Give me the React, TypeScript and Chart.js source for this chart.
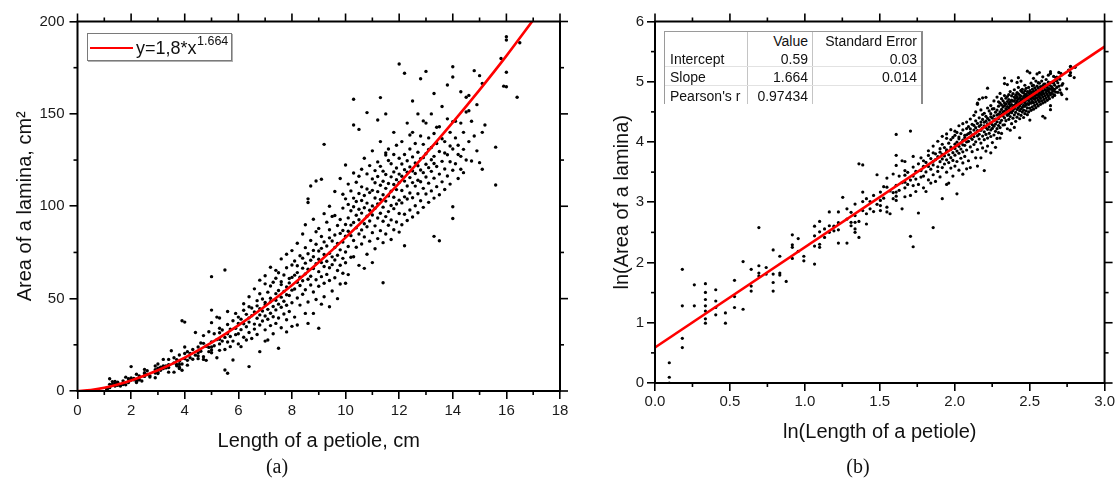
import React, { useEffect, useRef } from 'react';
import { Chart, registerables } from 'chart.js';

Chart.register(...registerables);

const SANS = '"Liberation Sans", Arial, Helvetica, sans-serif';
const SERIF = '"Liberation Serif", "Times New Roman", serif';

// Measured leaves: [petiole length (cm), lamina area (cm^2)], read band by band
const band1to2: [number, number][] = [
  [1.1, 1.0], [1.1, 1.1], [1.1, 1.4], [1.2, 1.8], [1.2, 2.1], [1.2, 3.6], [1.2, 6.6], [1.3, 3.6], [1.3, 5.1],
  [1.4, 2.7], [1.4, 2.9], [1.4, 3.3], [1.4, 3.6], [1.4, 4.0], [1.4, 4.5], [1.4, 5.2], [1.5, 3.1], [1.5, 3.5],
  [1.5, 3.9], [1.5, 4.7], [1.6, 2.7], [1.6, 3.2], [1.7, 3.5], [1.7, 4.2], [1.7, 5.5], [1.8, 3.4], [1.8, 7.5],
  [1.9, 4.6], [1.9, 5.0], [1.9, 6.6], [2.0, 5.9], [2.0, 6.2], [2.0, 7.0], [2.0, 13.2],
];
const band2to4: [number, number][] = [
  [2.1, 6.1], [2.1, 6.8], [2.2, 4.6], [2.2, 5.3], [2.2, 6.1], [2.2, 9.1], [2.3, 6.0], [2.3, 6.2], [2.3, 8.2],
  [2.4, 5.4], [2.5, 7.9], [2.5, 9.5], [2.5, 9.9], [2.5, 11.7], [2.6, 8.9], [2.6, 11.0], [2.7, 7.6], [2.7, 8.2],
  [2.9, 7.2], [2.9, 9.7], [2.9, 11.5], [2.9, 13.5], [3.0, 9.5], [3.0, 10.0], [3.0, 12.3], [3.0, 14.6],
  [3.1, 11.2], [3.1, 12.9], [3.2, 12.2], [3.2, 13.6], [3.2, 17.1], [3.3, 12.5], [3.3, 13.5], [3.4, 10.2],
  [3.4, 12.7], [3.4, 14.3], [3.4, 17.1], [3.5, 21.8], [3.6, 10.2], [3.6, 15.2], [3.6, 18.0], [3.7, 13.6],
  [3.7, 14.4], [3.7, 17.0], [3.8, 12.2], [3.8, 12.9], [3.8, 14.4], [3.8, 16.1], [3.8, 19.5], [3.9, 11.2],
  [3.9, 14.6], [3.9, 38.0], [4.0, 17.5], [4.0, 20.3], [4.0, 23.8], [4.0, 37.3],
];
const band4to6: [number, number][] = [
  [4.1, 14.0], [4.1, 16.6], [4.1, 21.3], [4.2, 18.0], [4.2, 20.3], [4.3, 17.2], [4.3, 22.5], [4.4, 31.7],
  [4.4, 19.4], [4.5, 17.5], [4.5, 19.0], [4.5, 20.7], [4.5, 23.8], [4.6, 21.5], [4.6, 26.0], [4.7, 17.1],
  [4.7, 18.5], [4.7, 25.8], [4.7, 30.0], [4.8, 16.6], [4.8, 24.2], [4.9, 21.3], [4.9, 23.6], [4.9, 32.1],
  [5.0, 20.7], [5.0, 22.2], [5.0, 23.8], [5.0, 26.6], [5.0, 37.0], [5.0, 43.8], [5.0, 61.9], [5.1, 24.5],
  [5.1, 31.0], [5.2, 18.0], [5.2, 27.8], [5.2, 40.0], [5.3, 22.0], [5.3, 25.5], [5.3, 28.0], [5.3, 31.5],
  [5.3, 34.0], [5.3, 39.5], [5.4, 27.0], [5.4, 33.0], [5.5, 11.4], [5.5, 22.5], [5.5, 29.0], [5.5, 65.5],
  [5.6, 9.6], [5.6, 26.5], [5.6, 31.0], [5.6, 36.0], [5.6, 43.0], [5.7, 24.0], [5.7, 29.5], [5.7, 33.5],
  [5.8, 16.8], [5.8, 27.0], [5.8, 38.0], [5.9, 30.5], [5.9, 34.0], [5.9, 42.0], [6.0, 25.5], [6.0, 31.0],
  [6.0, 36.5], [6.0, 40.0],
];
const band6to8: [number, number][] = [
  [6.1, 24.0], [6.1, 33.2], [6.1, 38.9], [6.2, 29.1], [6.2, 36.4], [6.2, 43.7], [6.2, 47.2], [6.3, 27.6],
  [6.3, 34.8], [6.3, 41.5], [6.4, 13.2], [6.4, 31.7], [6.4, 37.3], [6.4, 39.6], [6.4, 45.6], [6.4, 51.0],
  [6.5, 28.4], [6.5, 40.7], [6.5, 44.9], [6.6, 33.5], [6.6, 36.2], [6.6, 42.8], [6.6, 55.3], [6.7, 30.6],
  [6.7, 39.4], [6.7, 46.1], [6.7, 48.9], [6.8, 21.3], [6.8, 35.7], [6.8, 41.2], [6.8, 44.5], [6.8, 52.6],
  [6.8, 60.0], [6.9, 37.9], [6.9, 43.3], [6.9, 49.8], [7.0, 27.0], [7.0, 33.1], [7.0, 40.6], [7.0, 46.7],
  [7.0, 47.9], [7.0, 58.0], [7.0, 62.4], [7.1, 27.6], [7.1, 38.8], [7.1, 44.2], [7.1, 53.5], [7.2, 35.4],
  [7.2, 42.1], [7.2, 48.3], [7.2, 50.2], [7.2, 56.8], [7.2, 67.0], [7.3, 31.0], [7.3, 40.2], [7.3, 45.7],
  [7.3, 58.9], [7.4, 36.6], [7.4, 43.9], [7.4, 49.1], [7.4, 52.7], [7.4, 61.0], [7.4, 65.3], [7.5, 23.1],
  [7.5, 39.5], [7.5, 47.0], [7.5, 54.4], [7.5, 64.0], [7.6, 34.2], [7.6, 45.3], [7.6, 50.8], [7.6, 57.6],
  [7.6, 59.2], [7.6, 71.5], [7.7, 41.7], [7.7, 48.6], [7.7, 53.9], [7.7, 62.8], [7.8, 32.0], [7.8, 38.6],
  [7.8, 46.4], [7.8, 52.1], [7.8, 56.3], [7.8, 66.7], [7.8, 74.0], [7.9, 43.0], [7.9, 51.7], [7.9, 58.5],
  [7.9, 60.9], [8.0, 35.0], [8.0, 47.8], [8.0, 54.6], [8.0, 61.5], [8.0, 68.2], [8.0, 76.0],
];
const band8to10: [number, number][] = [
  [8.1, 40.0], [8.1, 55.2], [8.1, 62.7], [8.1, 70.4], [8.2, 35.7], [8.2, 50.3], [8.2, 58.9], [8.2, 64.1],
  [8.2, 67.8], [8.2, 80.0], [8.3, 46.5], [8.3, 57.1], [8.3, 61.6], [8.3, 73.2], [8.4, 52.4], [8.4, 59.7],
  [8.4, 66.5], [8.4, 71.9], [8.4, 85.0], [8.5, 42.0], [8.5, 54.8], [8.5, 63.4], [8.5, 69.2], [8.5, 77.6],
  [8.5, 90.0], [8.6, 36.6], [8.6, 48.2], [8.6, 60.5], [8.6, 65.9], [8.6, 74.3], [8.6, 102.0], [8.6, 104.0],
  [8.7, 57.4], [8.7, 62.1], [8.7, 70.8], [8.7, 81.5], [8.7, 111.0], [8.8, 42.0], [8.8, 53.6], [8.8, 66.3],
  [8.8, 72.7], [8.8, 76.1], [8.8, 93.0], [8.9, 49.5], [8.9, 60.2], [8.9, 68.9], [8.9, 79.4], [8.9, 86.2],
  [8.9, 113.7], [9.0, 34.0], [9.0, 56.7], [9.0, 64.6], [9.0, 71.3], [9.0, 75.8], [9.0, 88.0], [9.1, 47.0],
  [9.1, 61.9], [9.1, 69.5], [9.1, 77.2], [9.1, 83.6], [9.1, 114.6], [9.2, 51.0], [9.2, 58.3], [9.2, 67.4],
  [9.2, 73.9], [9.2, 80.7], [9.2, 96.0], [9.2, 133.5], [9.3, 63.1], [9.3, 70.2], [9.3, 78.5], [9.3, 91.4],
  [9.4, 45.6], [9.4, 59.8], [9.4, 66.7], [9.4, 74.6], [9.4, 82.9], [9.4, 87.3], [9.4, 100.0], [9.5, 54.1],
  [9.5, 68.4], [9.5, 72.6], [9.5, 81.2], [9.5, 94.5], [9.6, 61.3], [9.6, 70.9], [9.6, 77.7], [9.6, 84.4],
  [9.6, 95.0], [9.6, 108.0], [9.7, 50.0], [9.7, 65.2], [9.7, 73.5], [9.7, 79.9], [9.7, 89.6], [9.8, 57.9],
  [9.8, 68.1], [9.8, 76.4], [9.8, 85.3], [9.8, 92.8], [9.8, 115.0], [9.9, 63.7], [9.9, 71.8], [9.9, 80.6],
  [9.9, 86.9], [9.9, 99.0], [9.9, 106.5], [10.0, 58.3], [10.0, 69.4], [10.0, 75.2], [10.0, 83.8],
  [10.0, 90.1], [10.0, 104.0], [10.0, 122.3],
];
const band10to12: [number, number][] = [
  [10.1, 63.0], [10.1, 78.2], [10.1, 86.5], [10.1, 93.7], [10.1, 101.0], [10.1, 112.0], [10.2, 72.4],
  [10.2, 84.1], [10.2, 89.8], [10.2, 97.6], [10.2, 108.3], [10.3, 72.7], [10.3, 81.5], [10.3, 91.2],
  [10.3, 99.7], [10.3, 104.4], [10.3, 118.0], [10.3, 144.0], [10.3, 157.9], [10.4, 77.8], [10.4, 88.3],
  [10.4, 95.1], [10.4, 102.6], [10.4, 113.0], [10.5, 68.0], [10.5, 85.0], [10.5, 92.7], [10.5, 98.4],
  [10.5, 106.9], [10.5, 116.2], [10.5, 141.6], [10.6, 79.6], [10.6, 87.2], [10.6, 96.3], [10.6, 103.1],
  [10.6, 110.5], [10.6, 120.0], [10.7, 66.4], [10.7, 83.4], [10.7, 90.5], [10.7, 99.2], [10.7, 105.8],
  [10.7, 126.0], [10.8, 74.0], [10.8, 88.9], [10.8, 94.6], [10.8, 101.7], [10.8, 109.3], [10.8, 117.5],
  [10.8, 150.7], [10.9, 81.1], [10.9, 92.0], [10.9, 97.8], [10.9, 107.4], [10.9, 122.0], [11.0, 69.5],
  [11.0, 85.7], [11.0, 95.3], [11.0, 100.2], [11.0, 108.6], [11.0, 114.8], [11.0, 130.0], [11.1, 77.0],
  [11.1, 89.4], [11.1, 98.9], [11.1, 104.5], [11.1, 112.7], [11.1, 119.3], [11.2, 82.5], [11.2, 93.6],
  [11.2, 101.3], [11.2, 107.9], [11.2, 116.1], [11.2, 124.0], [11.2, 146.7], [11.3, 86.8], [11.3, 96.2],
  [11.3, 103.7], [11.3, 111.4], [11.3, 121.6], [11.3, 135.0], [11.3, 158.8], [11.4, 58.6], [11.4, 80.3],
  [11.4, 91.9], [11.4, 99.5], [11.4, 106.2], [11.4, 113.5], [11.4, 119.0], [11.5, 85.0], [11.5, 94.4],
  [11.5, 102.8], [11.5, 109.7], [11.5, 117.2], [11.5, 127.7], [11.5, 128.9], [11.5, 150.0], [11.6, 89.7],
  [11.6, 97.1], [11.6, 105.6], [11.6, 112.3], [11.6, 124.8], [11.6, 131.0], [11.7, 82.0], [11.7, 92.6],
  [11.7, 100.4], [11.7, 108.1], [11.7, 115.9], [11.7, 123.0], [11.8, 87.3], [11.8, 98.7], [11.8, 104.9],
  [11.8, 111.8], [11.8, 118.6], [11.8, 128.0], [11.8, 140.0], [11.9, 91.5], [11.9, 101.2], [11.9, 109.0],
  [11.9, 114.4], [11.9, 120.7], [11.9, 133.0], [12.0, 86.0], [12.0, 96.1], [12.0, 103.3], [12.0, 112.9],
  [12.0, 117.4], [12.0, 126.0], [12.0, 177.0],
];
const band12to14: [number, number][] = [
  [12.1, 90.0], [12.1, 101.8], [12.1, 108.5], [12.1, 116.2], [12.1, 122.9], [12.1, 135.0], [12.2, 78.6],
  [12.2, 95.7], [12.2, 105.1], [12.2, 113.6], [12.2, 119.8], [12.2, 128.0], [12.2, 172.0], [12.3, 92.3],
  [12.3, 103.9], [12.3, 111.0], [12.3, 118.4], [12.3, 124.6], [12.3, 145.0], [12.4, 98.0], [12.4, 107.2],
  [12.4, 115.5], [12.4, 121.3], [12.4, 131.0], [12.4, 138.6], [12.5, 94.2], [12.5, 104.6], [12.5, 112.8],
  [12.5, 119.1], [12.5, 126.7], [12.5, 140.0], [12.5, 157.0], [12.6, 100.3], [12.6, 110.9], [12.6, 117.7],
  [12.6, 123.4], [12.6, 134.0], [12.7, 96.5], [12.7, 106.8], [12.7, 114.1], [12.7, 121.9], [12.7, 129.2],
  [12.7, 150.0], [12.8, 103.0], [12.8, 113.3], [12.8, 119.6], [12.8, 125.8], [12.8, 138.0], [12.8, 169.0],
  [12.9, 99.4], [12.9, 109.7], [12.9, 118.2], [12.9, 126.3], [12.9, 133.5], [12.9, 146.2], [13.0, 106.6],
  [13.0, 115.8], [13.0, 122.7], [13.0, 128.4], [13.0, 145.0], [13.0, 173.0], [13.1, 102.1], [13.1, 112.5],
  [13.1, 120.9], [13.1, 130.7], [13.1, 137.0], [13.2, 108.3], [13.2, 118.9], [13.2, 125.2], [13.2, 131.8],
  [13.2, 150.0], [13.3, 83.7], [13.3, 104.4], [13.3, 115.2], [13.3, 123.1], [13.3, 127.0], [13.3, 139.4],
  [13.3, 161.0], [13.4, 110.6], [13.4, 121.5], [13.4, 134.0], [13.4, 142.8], [13.5, 81.3], [13.5, 106.2],
  [13.5, 117.4], [13.5, 129.6], [13.5, 143.0], [13.6, 113.2], [13.6, 124.3], [13.6, 136.5], [13.6, 154.0],
  [13.7, 109.1], [13.7, 120.2], [13.7, 128.8], [13.7, 135.0], [13.8, 116.4], [13.8, 127.9], [13.8, 147.3],
  [13.8, 165.6], [13.9, 112.0], [13.9, 124.1], [13.9, 132.6], [13.9, 140.0], [14.0, 93.4], [14.0, 99.7],
  [14.0, 119.5], [14.0, 131.0], [14.0, 145.8], [14.0, 170.0], [14.0, 175.5],
];
const band14to17: [number, number][] = [
  [14.1, 123.0], [14.1, 137.0], [14.1, 146.0], [14.2, 115.0], [14.2, 128.0], [14.2, 133.0], [14.3, 120.0],
  [14.3, 127.0], [14.3, 145.0], [14.3, 162.0], [14.4, 118.2], [14.4, 130.8], [14.4, 140.0], [14.5, 125.0],
  [14.5, 151.0], [14.5, 159.0], [14.6, 135.0], [14.6, 151.7], [14.6, 160.0], [14.7, 124.5], [14.7, 146.0],
  [14.8, 138.0], [14.8, 173.4], [14.9, 130.0], [14.9, 155.0], [15.0, 123.6], [15.0, 170.7], [15.1, 120.0],
  [15.1, 140.0], [15.1, 166.5], [15.2, 144.0], [15.6, 111.5], [15.6, 132.0], [15.8, 180.0], [15.9, 165.0],
  [16.0, 172.5], [16.0, 164.7], [16.0, 190.0], [16.0, 191.8], [16.4, 159.0], [16.5, 188.5],
];

const leaves = [
  ...band1to2, ...band2to4, ...band4to6, ...band6to8,
  ...band8to10, ...band10to12, ...band12to14, ...band14to17,
];
const petioleLengths = leaves.map((p) => p[0]);
const laminaAreas = leaves.map((p) => p[1]);

// Fitted curve y = 1,8*x^1.664 in (a)
const fitLengthsA = [0, 0.5, 1, 1.5, 2, 3, 4, 5, 6, 7, 8, 9, 10, 11, 12, 13, 14, 15, 16, 17];
const fitAreasA = [0, 0.57, 1.8, 3.5, 5.7, 11.2, 18.1, 26.2, 35.5, 45.9, 57.3, 69.7, 83.0, 97.3, 112.5, 128.5, 145.4, 163.0, 181.4, 200.8];

// Linear fit in (b)
const fitLnLengthB = [0, 3];
const fitLnAreaB = [0.59, 5.582];

// Axis ticks
const xTicksA = [0, 2, 4, 6, 8, 10, 12, 14, 16, 18];
const yTicksA = [0, 50, 100, 150, 200];
const xTicksB = [0, 0.5, 1, 1.5, 2, 2.5, 3];
const yTicksB = [0, 1, 2, 3, 4, 5, 6];

// Regression table in (b)
const tableHeader = ['', 'Value', 'Standard Error'];
const tableRows = [
  ['Intercept', '0.59', '0.03'],
  ['Slope', '1.664', '0.014'],
  ["Pearson's r", '0.97434', ''],
];

const MAJOR_LEN = 8;
const MINOR_LEN = 4;

// Draws minor ticks on bottom/left, mirrored major+minor ticks on top/right, and the frame
function framePlugin(xMajor: number[], yMajor: number[]) {
  return {
    id: 'frameTicks',
    afterDraw(chart: any) {
      const ctx: CanvasRenderingContext2D = chart.ctx;
      const area = chart.chartArea;
      const left = area.left, right = area.right, top = area.top, bottom = area.bottom;
      const xs = chart.scales['x'];
      const ys = chart.scales['y'];
      const w = 1.6;
      ctx.save();
      ctx.fillStyle = '#000000';
      const tickX = (v: number, len: number, both: boolean) => {
        const p = xs.getPixelForValue(v);
        if (both) ctx.fillRect(p - w / 2, bottom, w, len);
        ctx.fillRect(p - w / 2, top - len, w, len);
      };
      const tickY = (v: number, len: number, both: boolean) => {
        const p = ys.getPixelForValue(v);
        if (both) ctx.fillRect(left - len, p - w / 2, len, w);
        ctx.fillRect(right, p - w / 2, len, w);
      };
      for (let i = 0; i < xMajor.length; i++) {
        tickX(xMajor[i], MAJOR_LEN, false);
        if (i < xMajor.length - 1) tickX((xMajor[i] + xMajor[i + 1]) / 2, MINOR_LEN, true);
      }
      for (let i = 0; i < yMajor.length; i++) {
        tickY(yMajor[i], MAJOR_LEN, false);
        if (i < yMajor.length - 1) tickY((yMajor[i] + yMajor[i + 1]) / 2, MINOR_LEN, true);
      }
      ctx.strokeStyle = '#000000';
      ctx.lineWidth = 2;
      ctx.strokeRect(left, top, right - left, bottom - top);
      ctx.restore();
    },
  };
}

function axisCommon(opts: any) {
  return {
    type: 'linear',
    min: opts.min,
    max: opts.max,
    grid: {
      display: true,
      drawOnChartArea: false,
      drawTicks: true,
      tickLength: MAJOR_LEN,
      tickWidth: 1.6,
      tickColor: '#000000',
      lineWidth: 1.6,
      color: '#000000',
    },
    border: { display: false },
    ticks: {
      stepSize: opts.step,
      autoSkip: false,
      maxRotation: 0,
      minRotation: 0,
      padding: opts.tickPad,
      color: '#1a1a1a',
      font: { family: SANS, size: 15 },
      callback: opts.fmt,
    },
    title: {
      display: true,
      text: opts.title,
      color: '#111',
      font: { family: SANS, size: 20 },
      padding: opts.titlePad,
    },
    afterFit: opts.afterFit,
  };
}

function PanelA() {
  const ref = useRef<HTMLCanvasElement>(null);
  useEffect(() => {
    if (!ref.current) return;
    const chart = new Chart(ref.current, {
      type: 'scatter',
      data: {
        datasets: [
          {
            label: 'y=1,8*x^1.664',
            data: fitLengthsA.map((x, i) => ({ x, y: fitAreasA[i] })),
            showLine: true,
            borderColor: '#ff0000',
            borderWidth: 2.6,
            pointRadius: 0,
            cubicInterpolationMode: 'monotone',
            order: 0,
          },
          {
            label: 'data',
            data: petioleLengths.map((x, i) => ({ x, y: laminaAreas[i] })),
            backgroundColor: '#000',
            borderWidth: 0,
            pointRadius: 1.7,
            order: 1,
          },
        ],
      } as any,
      options: {
        responsive: false,
        animation: false,
        events: [],
        layout: { padding: { left: 0, top: 21.5, right: 30, bottom: 0 } },
        plugins: { legend: { display: false }, tooltip: { enabled: false } },
        scales: {
          x: axisCommon({
            min: 0, max: 18, step: 2, tickPad: 3,
            fmt: (v: number) => String(v),
            title: 'Length of a petiole, cm',
            titlePad: { top: 0, bottom: 30 },
            afterFit: (s: any) => { s.height = 92; },
          }),
          y: axisCommon({
            min: 0, max: 200, step: 50, tickPad: 5,
            fmt: (v: number) => String(v),
            title: 'Area of a lamina, cm\u00B2',
            titlePad: { top: 13, bottom: 0 },
            afterFit: (s: any) => { s.width = 77.5; },
          }),
        },
      } as any,
      plugins: [framePlugin(xTicksA, yTicksA)],
    });
    return () => chart.destroy();
  }, []);
  return (
    <canvas
      ref={ref}
      width={590}
      height={483}
      style={{ position: 'absolute', left: 0, top: 0, width: 590, height: 483 }}
    />
  );
}

function PanelB() {
  const ref = useRef<HTMLCanvasElement>(null);
  useEffect(() => {
    if (!ref.current) return;
    const chart = new Chart(ref.current, {
      type: 'scatter',
      data: {
        datasets: [
          {
            label: 'Linear fit',
            data: fitLnLengthB.map((x, i) => ({ x, y: fitLnAreaB[i] })),
            showLine: true,
            borderColor: '#ff0000',
            borderWidth: 2.6,
            pointRadius: 0,
            order: 0,
          },
          {
            label: 'ln data',
            data: petioleLengths.map((x, i) => ({ x: Math.log(x), y: Math.log(laminaAreas[i]) })),
            backgroundColor: '#000',
            borderWidth: 0,
            pointRadius: 1.6,
            order: 1,
          },
        ],
      } as any,
      options: {
        responsive: false,
        animation: false,
        events: [],
        layout: { padding: { left: 0, top: 21.5, right: 12, bottom: 0 } },
        plugins: { legend: { display: false }, tooltip: { enabled: false } },
        scales: {
          x: axisCommon({
            min: 0, max: 3, step: 0.5, tickPad: 2,
            fmt: (v: number) => Number(v).toFixed(1),
            title: 'ln(Length of a petiole)',
            titlePad: { top: 0, bottom: 39 },
            afterFit: (s: any) => { s.height = 100; },
          }),
          y: axisCommon({
            min: 0, max: 6, step: 1, tickPad: 3,
            fmt: (v: number) => String(v),
            title: 'ln(Area of a lamina)',
            titlePad: { top: 20, bottom: 0 },
            afterFit: (s: any) => { s.width = 65; },
          }),
        },
      } as any,
      plugins: [framePlugin(xTicksB, yTicksB)],
    });
    return () => chart.destroy();
  }, []);
  return (
    <canvas
      ref={ref}
      width={527}
      height={483}
      style={{ position: 'absolute', left: 590, top: 0, width: 527, height: 483 }}
    />
  );
}

function LegendA() {
  return (
    <div
      style={{
        position: 'absolute', left: 87, top: 33, width: 143, height: 26,
        border: '1px solid #7a7a7a', boxShadow: '1px 1px 0 #b0b0b0', background: '#fff',
        fontFamily: SANS, color: '#111',
      }}
    >
      <div style={{ position: 'absolute', left: 2, top: 13, width: 43, height: 0, borderTop: '2.6px solid #ff0000' }} />
      <span style={{ position: 'absolute', left: 48, top: 3, fontSize: 18, lineHeight: '22px', whiteSpace: 'nowrap' }}>
        y=1,8*x
      </span>
      <span style={{ position: 'absolute', left: 109, top: 0, fontSize: 12.5, lineHeight: '14px', whiteSpace: 'nowrap' }}>
        1.664
      </span>
    </div>
  );
}

function TableB() {
  const colRight = [0, 143, 252];
  const rowCenter = [8.5, 26.5, 45, 63.5];
  const rows = [tableHeader, ...tableRows];
  return (
    <div
      style={{
        position: 'absolute', left: 664, top: 31, width: 256, height: 72,
        borderTop: '1px solid #9a9a9a', borderLeft: '1px solid #9a9a9a', borderRight: '2px solid #8a8a8a',
        background: '#fff', fontFamily: SANS, fontSize: 14, color: '#111',
      }}
    >
      <div style={{ position: 'absolute', left: 82, top: 0, width: 1, height: 72, background: '#c4c4c4' }} />
      <div style={{ position: 'absolute', left: 147, top: 0, width: 1, height: 72, background: '#c4c4c4' }} />
      <div style={{ position: 'absolute', left: 0, top: 34, width: 256, height: 1, background: '#e2e2e2' }} />
      <div style={{ position: 'absolute', left: 0, top: 53, width: 256, height: 1, background: '#e2e2e2' }} />
      {rows.map((row, r) =>
        row.map((cell, c) =>
          cell ? (
            <span
              key={`${r}-${c}`}
              style={{
                position: 'absolute',
                top: rowCenter[r] - 9,
                lineHeight: '18px',
                whiteSpace: 'nowrap',
                ...(c === 0 ? { left: 5 } : { right: 256 - colRight[c] }),
              }}
            >
              {cell}
            </span>
          ) : null,
        ),
      )}
    </div>
  );
}

function Caption({ text, cx }: { text: string; cx: number }) {
  return (
    <div
      style={{
        position: 'absolute', left: cx - 50, top: 454, width: 100, textAlign: 'center',
        fontFamily: SERIF, fontSize: 20, lineHeight: '24px', color: '#111',
      }}
    >
      {text}
    </div>
  );
}

export default function App() {
  return (
    <div style={{ position: 'absolute', left: 0, top: 0, width: 1117, height: 483, background: '#fff', overflow: 'hidden' }}>
      <PanelA />
      <PanelB />
      <LegendA />
      <TableB />
      <Caption text="(a)" cx={277} />
      <Caption text="(b)" cx={858} />
    </div>
  );
}
